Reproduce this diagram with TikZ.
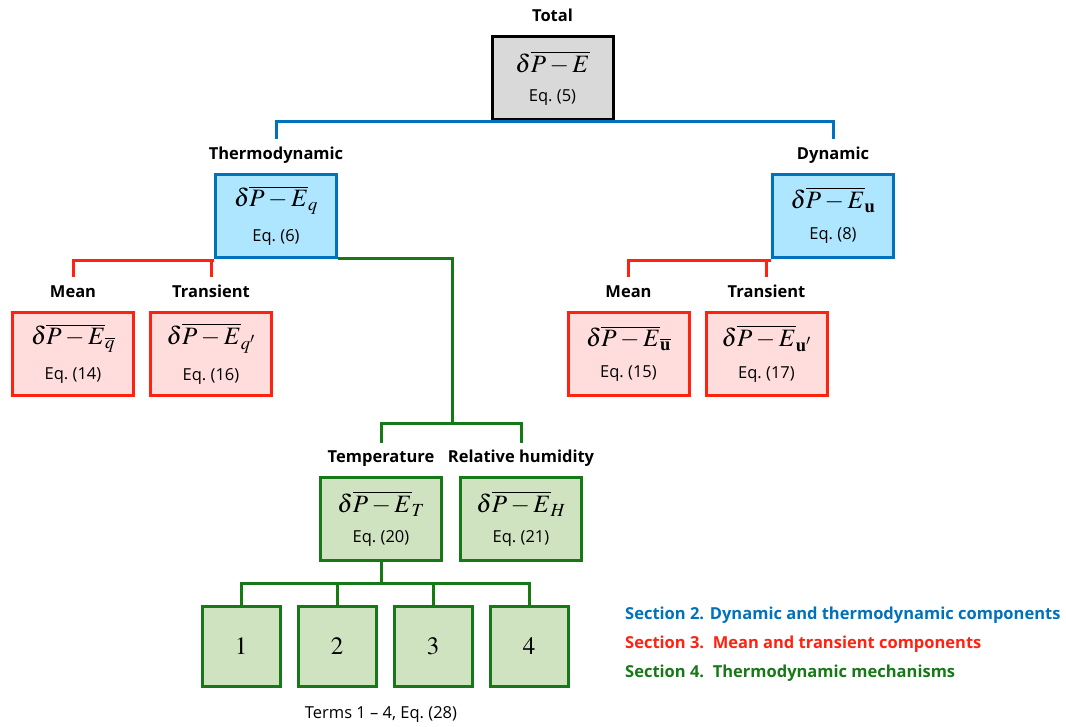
\documentclass[tikz,border=0pt]{standalone}
\usepackage{mathptmx}
\usepackage[no-math]{fontspec}
\setmainfont{Open Sans}
\usetikzlibrary{positioning}
\definecolor{blau}{RGB}{0,114,188}
\definecolor{hellblau}{RGB}{174,230,255}
\definecolor{rot}{RGB}{255,34,17}
\definecolor{hellrot}{RGB}{255,221,221}
\definecolor{gruen}{RGB}{22,120,22}
\definecolor{hellgruen}{RGB}{208,227,192}
\definecolor{grau}{RGB}{217,217,217}
\tikzset{
  box/.style={draw=#1,line width=3pt,minimum width=121pt,minimum height=83pt,
    align=center,inner sep=0pt},
  tbox/.style={box=black,fill=grau},
  bbox/.style={box=blau,fill=hellblau},
  rbox/.style={box=rot,fill=hellrot},
  gbox/.style={box=gruen,fill=hellgruen},
  % kleine Kaestchen fuer die Terme
  nbox/.style={gbox,minimum width=78pt,minimum height=80pt,
    font=\fontsize{25}{30}\selectfont},
  lbl/.style={font=\fontsize{16.5}{18}\selectfont\bfseries,inner sep=0pt,
    text height=12pt,text depth=3pt},
  sect/.style={font=\fontsize{16.5}{18}\selectfont\bfseries,anchor=west,inner sep=0pt},
  verb/.style={line width=3pt}
}
\newcommand{\feld}[2]{{\fontsize{25}{30}\selectfont$\delta\overline{P-E}#1$}\\[14pt]%
  {\fontsize{16.5}{18}\selectfont Eq.~(#2)}}

\begin{document}
\begin{tikzpicture}[x=1pt,y=-1pt]
\useasboundingbox (0,0) rectangle (1066,726);
% Kaesten
  \node[tbox] (tot) at (552.5,78) {\feld{}{5}};
  \node[bbox] (th) at (276,215.5) {\feld{_q}{6}};
  \node[bbox] (dy) at (833,215.5) {\feld{_{\mathbf{u}}}{8}};
  \node[rbox] (mq) at (73,353.5) {\feld{_{\overline{q}}}{14}};
  \node[rbox,right=14pt of mq] (tq) {\feld{_{q'}}{16}};
  \node[rbox] (mu) at (628.5,353.5) {\feld{_{\overline{\mathbf{u}}}}{15}};
  \node[rbox,right=14pt of mu] (tu) {\feld{_{\mathbf{u}'}}{17}};
  \node[gbox] (te) at (381,519) {\feld{_T}{20}};
  \node[gbox,right=16pt of te] (rh) {\feld{_H}{21}};
  \node[nbox] (n1) at (241,646.5) {$1$};
  \foreach \i [remember=\i as \j (initially 1)] in {2,3,4}
    \node[nbox,right=15pt of n\j] (n\i) {$\i$};
% Beschriftungen
  \node[lbl,above=10pt of tot] (totl) {Total};
  \node[lbl,above=10pt of th] (thl) {Thermodynamic};
  \node[lbl,above=10pt of dy] (dyl) {Dynamic};
  \node[lbl,above=10pt of mq] (mql) {Mean};
  \node[lbl,above=10pt of tq] (tql) {Transient};
  \node[lbl,above=10pt of mu] (mul) {Mean};
  \node[lbl,above=10pt of tu] (tul) {Transient};
  \node[lbl,above=10pt of te] (tel) {Temperature};
  \node[lbl,above=10pt of rh] (rhl) {Relative humidity};
  \node[font=\fontsize{16.5}{18}\selectfont] (terms) at (381,714) {Terms 1 -- 4, Eq.~(28)};
% Legende
  \node[sect,text=blau] (s2) at (625,615) {Section 2. Dynamic and thermodynamic components};
  \node[sect,text=rot,below=29pt of s2.west,anchor=west] (s3) {Section 3.\ \ Mean and transient components};
  \node[sect,text=gruen,below=29pt of s3.west,anchor=west] (s4) {Section 4.\ \ Thermodynamic mechanisms};
% Verbindungen
  \draw[verb,blau] ([yshift=8pt]thl.north) |- (tot.south) -| ([yshift=8pt]dyl.north);
  \draw[verb,rot] ([yshift=8pt]mql.north) |- ([yshift=-1.5pt]th.south west) -| ([yshift=8pt]tql.north);
  \draw[verb,rot] ([yshift=8pt]mul.north) |- ([yshift=-1.5pt]dy.south west) -| ([yshift=8pt]tul.north);
  \coordinate (gk) at (452,423);
  \draw[verb,gruen] (th.south east) -| (gk);
  \draw[verb,gruen] ([yshift=8pt]tel.north) |- (gk) -| ([yshift=8pt]rhl.north);
  \coordinate (nk) at (0,583);
  \foreach \i in {1,...,4}
    \draw[verb,gruen] (te.south) -- (te.south|-nk) -| (n\i.north);
\end{tikzpicture}
\end{document}
